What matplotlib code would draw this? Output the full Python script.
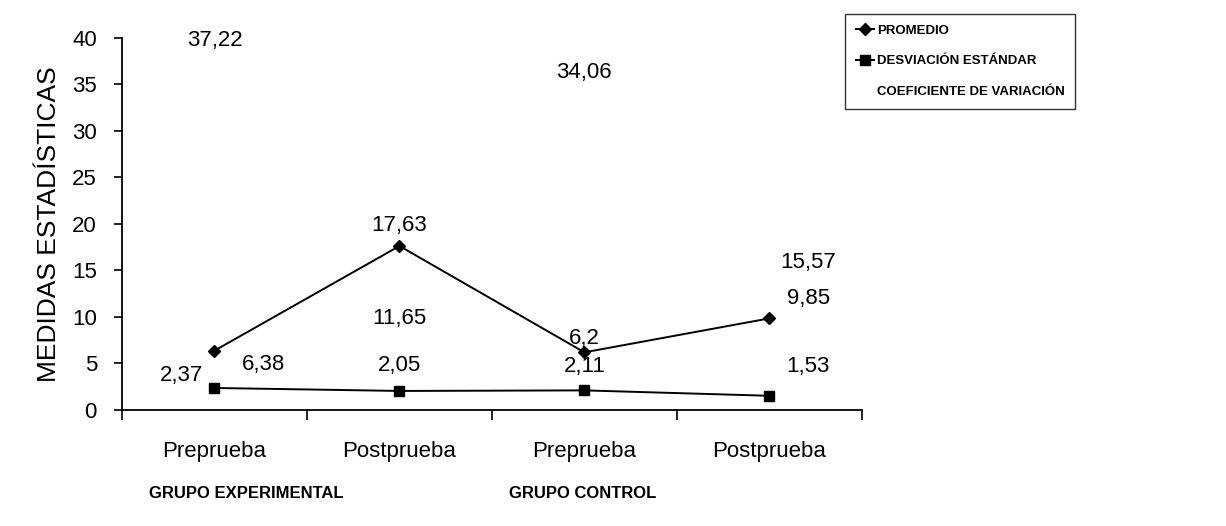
import matplotlib.pyplot as plt
import numpy as np

plt.rcParams['font.family'] = ['Liberation Sans', 'DejaVu Sans']

# ---------------
# Datos
# ---------------
categorias = ["Preprueba", "Postprueba", "Preprueba", "Postprueba"]
grupos = ["GRUPO EXPERIMENTAL", "GRUPO CONTROL"]

promedio = [6.38, 17.63, 6.2, 9.85]
desviacion = [2.37, 2.05, 2.11, 1.53]
coef_var = [37.22, 11.65, 34.06, 15.57]

# desplazamiento de las etiquetas (en puntos)
off_prom = [(35, -10), (0, 15), (0, 10), (28, 14)]
off_desv = [(-24, 9), (0, 18), (0, 17), (28, 21)]
off_cv = [(0, 17), (0, -12), (0, 15), (28, 2)]


def fmt(v):
    s = ("%.2f" % v).rstrip("0").rstrip(".")
    return s.replace(".", ",")


fig = plt.figure(figsize=(12.26, 5.26), dpi=100)
ax = fig.add_axes([0.0995, 0.2205, 0.6035, 0.7075])

x = np.arange(len(categorias))

ax.plot(x, promedio, "k-", marker="D", markersize=6, lw=1.4, label="PROMEDIO")
ax.plot(x, desviacion, "k-", marker="s", markersize=7, lw=1.4,
        label="DESVIACIÓN ESTÁNDAR")
ax.plot(x, coef_var, linestyle="none", marker="none",
        label="COEFICIENTE DE VARIACIÓN")

for vals, offs in [(promedio, off_prom), (desviacion, off_desv), (coef_var, off_cv)]:
    for xi, v, o in zip(x, vals, offs):
        ax.annotate(fmt(v), (xi, v), xytext=o, textcoords="offset points",
                    ha="center", va="center", fontsize=16)

ax.set_xlim(-0.5, 3.5)
ax.set_ylim(0, 40)
ax.set_yticks(np.arange(0, 41, 5))
ax.tick_params(axis="y", labelsize=16, direction="out", length=6, width=1.2,
               pad=12)

ax.set_xticks(x)
ax.set_xticklabels(categorias, fontsize=16)
ax.tick_params(axis="x", which="major", length=0, pad=22)
ax.set_xticks(np.arange(-0.5, 4, 1), minor=True)
ax.tick_params(axis="x", which="minor", direction="out", length=7, width=1.2)

ax.spines["top"].set_visible(False)
ax.spines["right"].set_visible(False)
ax.spines["left"].set_linewidth(1.3)
ax.spines["bottom"].set_linewidth(1.3)

ax.set_ylabel("MEDIDAS ESTADÍSTICAS", fontsize=19, labelpad=8)

for gx, g in zip([246, 583], grupos):
    fig.text(gx / 1226, 1 - 494 / 526, g, ha="center", va="center",
             fontsize=12, fontweight="bold")

leg = fig.legend(loc="upper left", bbox_to_anchor=(845 / 1226, 1 - 14 / 526),
                 frameon=True, fancybox=False, handlelength=1.4,
                 labelspacing=1.4, borderpad=0.8, handletextpad=0.2,
                 borderaxespad=0, prop={"size": 9.5, "weight": "bold"})
leg.get_frame().set_edgecolor("black")
leg.get_frame().set_linewidth(1.0)

fig.savefig("out.png", dpi=100)
